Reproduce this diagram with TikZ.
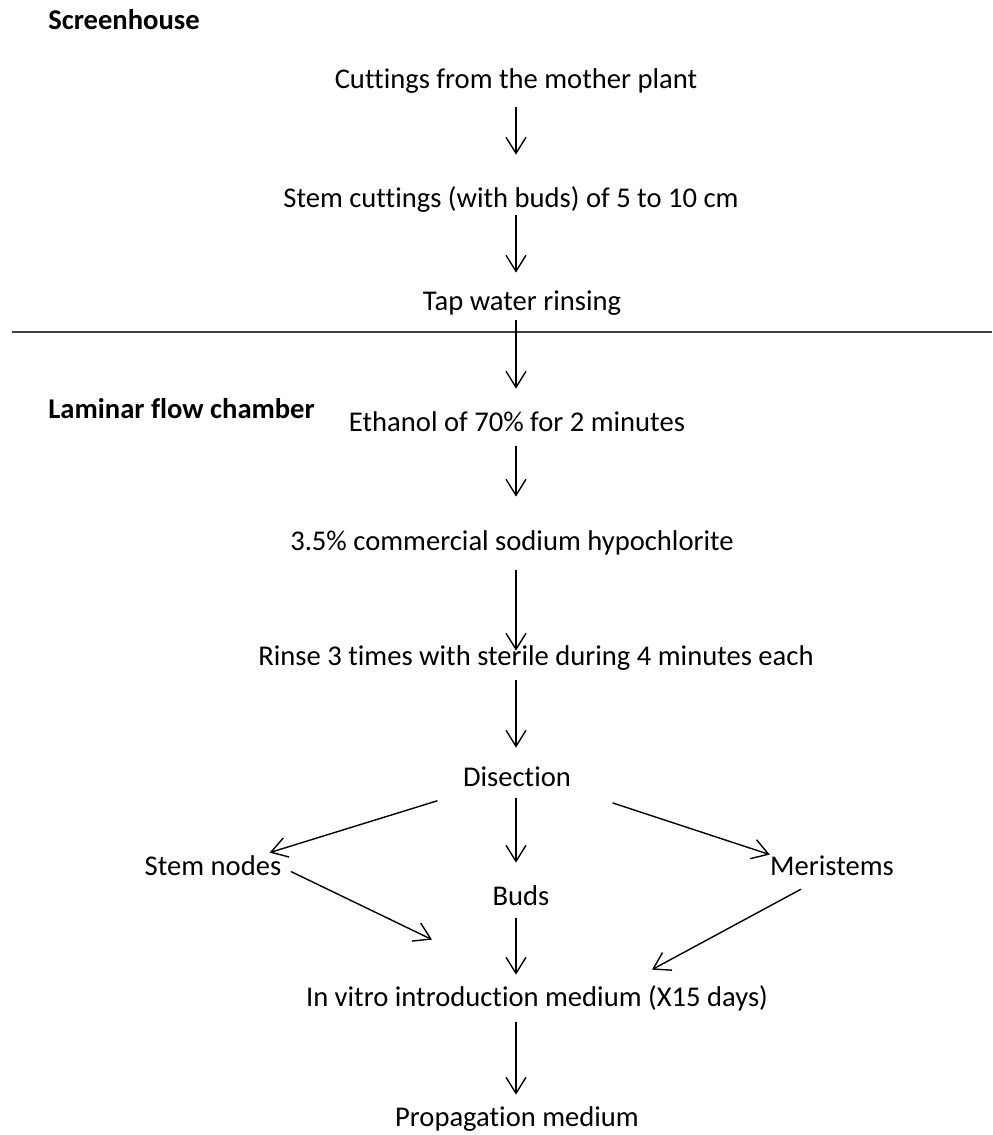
\documentclass[tikz,border=0pt]{standalone}
\usepackage{fontspec}
\setmainfont{Carlito}[Ligatures={NoCommon,NoRequired,NoContextual}]
\usetikzlibrary{arrows.meta}

\tikzset{
  step text/.style={anchor=base, inner sep=0pt, text height=10pt, text depth=3pt,
    font=\fontsize{14.3pt}{17pt}\selectfont},
  zone text/.style={step text, anchor=base west, font=\fontsize{14.3pt}{17pt}\selectfont\bfseries},
  flow/.style={line width=0.7pt, -{Straight Barb[length=8pt,width=10pt,line width=0.7pt]},
    shorten <=4pt}
}

\begin{document}
\begin{tikzpicture}[x=0.5pt, y=-0.5pt]
\useasboundingbox (0,0) rectangle (992,1135);
\coordinate (spine) at (516,0);

% zones
\node[zone text] (screen) at (48,29) {Screenhouse};
\node[zone text] (laminar) at (48,418) {Laminar flow chamber};
\draw[line width=0.8pt, black!75] (12,332) -- (992,332);

% steps
\node[step text] (cut) at (516,88) {Cuttings from the mother plant};
\node[step text] (stem) at (511,207) {Stem cuttings (with buds) of 5 to 10 cm};
\node[step text] (tap) at (522,310) {Tap water rinsing};
\node[step text] (eth) at (517,431) {Ethanol of 70\% for 2 minutes};
\node[step text] (hyp) at (512,550) {3.5\% commercial sodium hypochlorite};
\node[step text] (rinse) at (536,665) {Rinse 3 times with sterile during 4 minutes each};
\node[step text] (dis) at (517,786) {Disection};
\node[step text] (snodes) at (213,875) {Stem nodes};
\node[step text] (buds) at (521,905) {Buds};
\node[step text] (meri) at (832,875) {Meristems};
\node[step text] (invitro) at (537,1006) {In vitro introduction medium (X15 days)};
\node[step text] (prop) at (517,1126) {Propagation medium};

% arrows
\draw[flow, shorten <=6.5pt, shorten >=16pt] (cut.south -| spine) -- (stem.north -| spine);
\draw[flow, shorten <=1pt, shorten >=8.5pt] (stem.south -| spine) -- (tap.north -| spine);
\draw[flow, shorten <=2pt, shorten >=11pt] (tap.south -| spine) -- (eth.north -| spine);
\draw[flow, shorten <=4.5pt, shorten >=16.5pt] (eth.south -| spine) -- (hyp.north -| spine);
\draw[flow, shorten <=7pt, shorten >=-3pt] (hyp.south -| spine) -- (rinse.north -| spine);
\draw[flow, shorten <=4.5pt, shorten >=9pt] (rinse.south -| spine) -- (dis.north -| spine);
\draw[flow] ([shift={(-36pt,-3pt)}]dis.south) -- ([shift={(-6pt,1pt)}]snodes.north east);
\draw[flow, shorten <=3pt, shorten >=11pt] (dis.south -| spine) -- (buds.north -| spine);
\draw[flow] ([shift={(44pt,-4pt)}]dis.south) -- (meri.north west);
\draw[flow] ([xshift=1pt]snodes.east) -- ([shift={(-52.5pt,23pt)}]invitro.north);
\draw[flow, shorten <=3.5pt, shorten >=5.5pt] (buds.south -| spine) -- (invitro.north -| spine);
\draw[flow] ([shift={(-12pt,-2pt)}]meri.south) -- ([shift={(57.5pt,8pt)}]invitro.north);
\draw[flow, shorten <=5pt, shorten >=5.5pt] (invitro.south -| spine) -- (prop.north -| spine);
\end{tikzpicture}
\end{document}
